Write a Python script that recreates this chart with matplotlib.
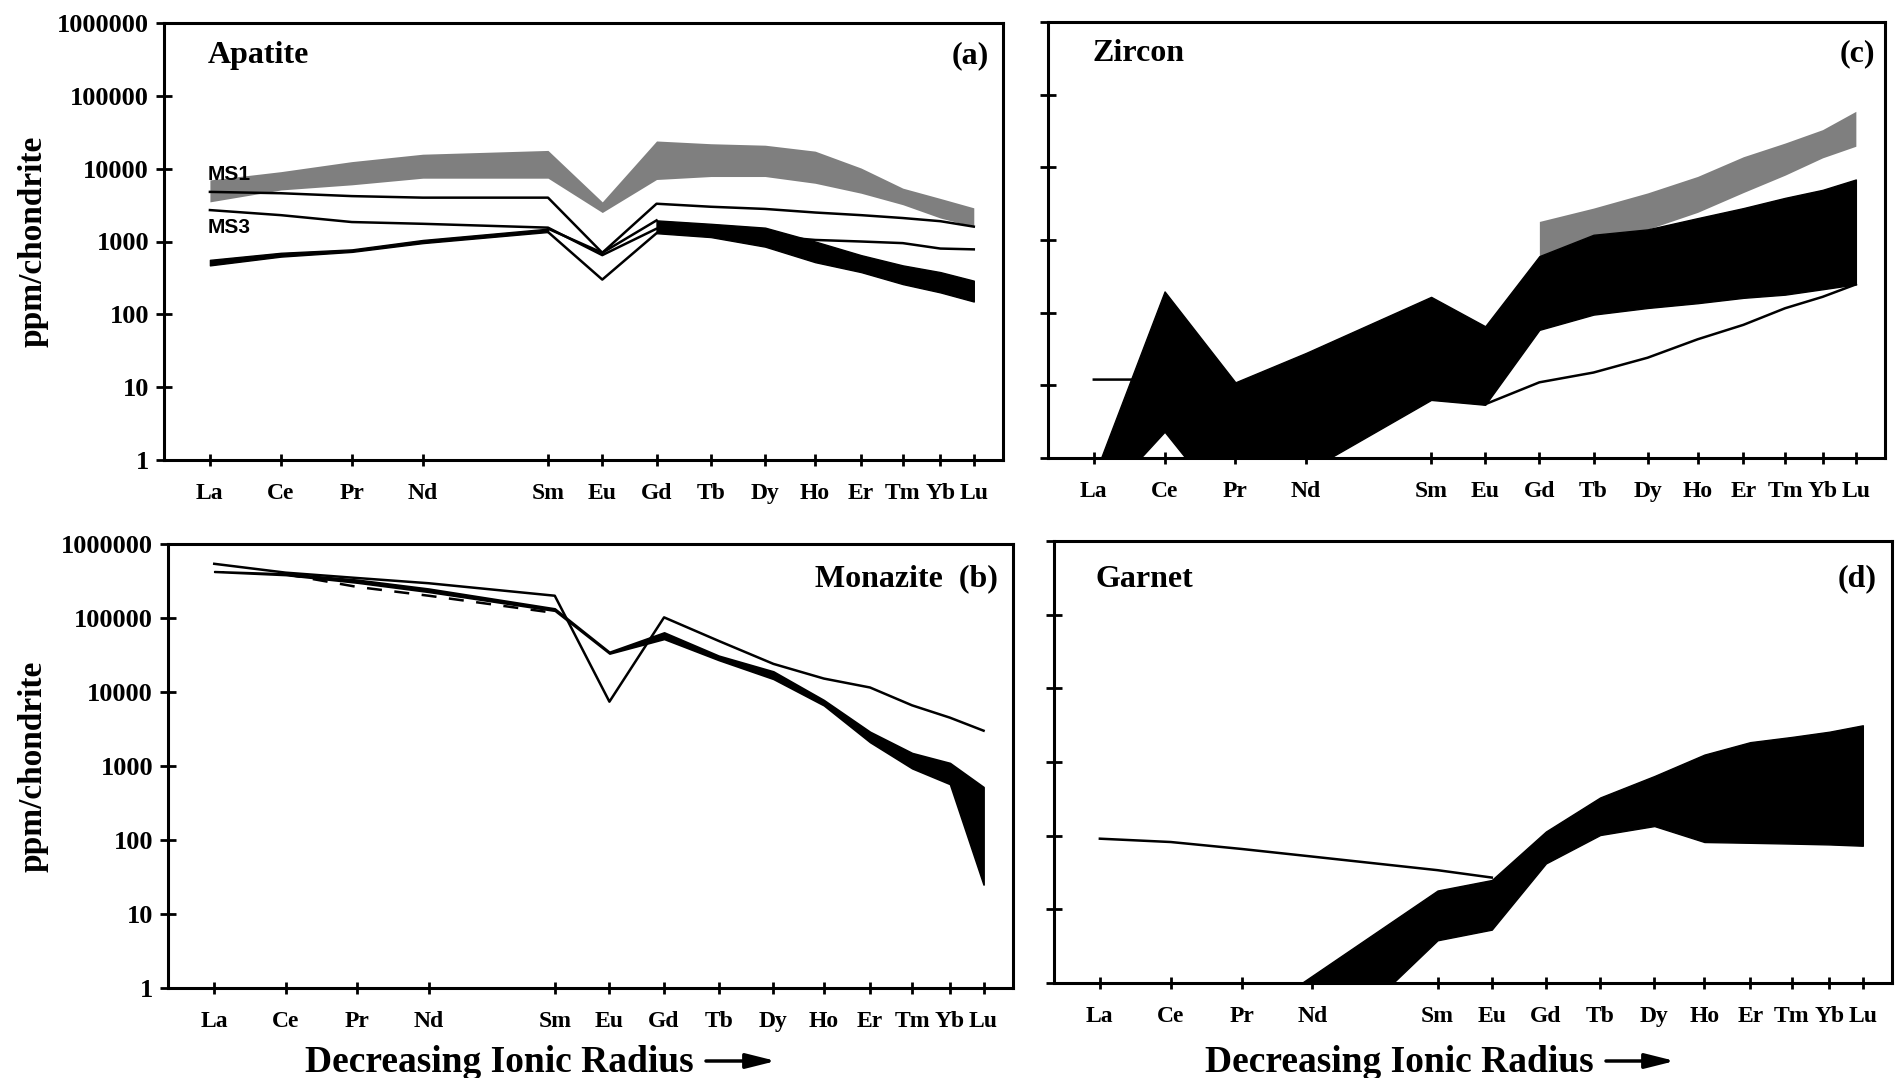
import matplotlib
matplotlib.use('Agg')
import matplotlib.pyplot as plt
from matplotlib.ticker import NullLocator
import numpy as np

plt.rcParams['font.family'] = ['Liberation Serif', 'DejaVu Serif']
plt.rcParams['font.weight'] = 'bold'

# REE on an ionic-radius axis (decreasing to the right)
elements = ['La', 'Ce', 'Pr', 'Nd', 'Sm', 'Eu', 'Gd', 'Tb', 'Dy', 'Ho', 'Er', 'Tm', 'Yb', 'Lu']
ionic_radius = [1.160, 1.143, 1.126, 1.109, 1.079, 1.066, 1.053, 1.040, 1.027, 1.015, 1.004, 0.994, 0.985, 0.977]
ytick_vals = [1, 10, 100, 1000, 10000, 100000, 1000000]
ytick_labels = ['1', '10', '100', '1000', '10000', '100000', '1000000']

# (a) apatite, ppm/chondrite
apatite_ms1_hi = [7000, 9100, 12500, 15800, 17800, 3500, 24000, 22000, 21000, 17400, 10200, 5400, 3900, 2900]
apatite_ms1_lo = [3500, 5100, 6000, 7400, 7400, 2500, 7100, 7800, 7800, 6300, 4600, 3200, 2100, 1600]
apatite_line1 = [4800, 4600, 4200, 4000, 4000, 700, 3300, 3000, 2800, 2500, 2300, 2100, 1900, 1600]
apatite_ms3 = [2700, 2300, 1850, 1750, 1550, 650, 1500, 1350, 1200, 1050, 1000, 950, 800, 780]
apatite_blk_hi = [560, 700, 780, 1050, 1500, 700, 1950, 1750, 1550, 1000, 650, 470, 380, 290]
apatite_blk_lo = [470, 620, 720, 950, 1350, 300, 1300, 1150, 850, 520, 380, 260, 200, 150]

# (c) zircon
zircon_line = [12, 12, 9, 8, 7, 5.5, 11, 15, 24, 43, 68, 115, 165, 245]
zircon_blk_hi = [0.55, 196, 11, 28, 165, 65, 600, 1180, 1400, 2000, 2750, 3800, 4900, 6800]
zircon_blk_lo = [0.2, 2.3, 0.14, 0.65, 6.3, 5.4, 58, 94, 116, 135, 160, 177, 210, 245]
zircon_gray_hi = [1800, 2750, 4450, 7500, 14000, 21600, 33000, 59000]   # Gd..Lu
zircon_gray_lo = [600, 1180, 1400, 2400, 4500, 7800, 13500, 19500]      # Gd..Lu

# (b) monazite
monazite_line = [540000, 410000, 347000, 295000, 200000, 7400, 102000, 49000, 24000, 15200, 11500, 6600, 4500, 3000]
monazite_hi = [430000, 400000, 330000, 250000, 135000, 35000, 64000, 31000, 19000, 7800, 2900, 1500, 1100, 520]
monazite_lo = [420000, 380000, 300000, 225000, 125000, 33000, 52000, 27000, 15000, 6600, 2100, 930, 570, 25]
monazite_dash = [390000, 263000, 200000, 117000]   # Ce..Sm

# (d) garnet
garnet_line = [91, 82, 66, 52, 34, 27]   # La..Eu
garnet_hi = [0.28, 1.26, 18, 25, 114, 330, 645, 1260, 1860, 2190, 2580, 3150]   # Pr..Lu
garnet_lo = [0.01, 0.09, 3.8, 5.3, 42, 102, 135, 82, 80, 78, 76, 73]            # Pr..Lu

GRAY = '#7f7f7f'
LW = 1.8
W, H = 1896, 1078
fig = plt.figure(figsize=(W / 100, H / 100), dpi=100)


def add_ax(l, r, t, b):
    return fig.add_axes([l / W, 1 - b / H, (r - l) / W, (b - t) / H])


def style(ax, show_ylabels):
    ax.set_yscale('log')
    ax.set_ylim(1, 1e6)
    ax.set_xlim(1.171, 0.970)
    ax.set_xticks(ionic_radius)
    ax.set_xticklabels(elements)
    ax.set_yticks(ytick_vals)
    ax.yaxis.set_minor_locator(NullLocator())
    ax.xaxis.set_minor_locator(NullLocator())
    ax.set_yticklabels(ytick_labels if show_ylabels else [])
    ax.tick_params(axis='x', direction='inout', length=8.5, width=2, pad=12, labelsize=17)
    ax.tick_params(axis='y', direction='inout', length=11.5, width=2, pad=5, labelsize=19)
    for s in ax.spines.values():
        s.set_linewidth(2.2)


x = np.array(ionic_radius)

# ---- (a) Apatite
ax_a = add_ax(164, 1003, 23, 460)
style(ax_a, True)
ax_a.fill_between(x, apatite_ms1_lo, apatite_ms1_hi, color=GRAY, lw=0)
ax_a.plot(x, apatite_line1, color='k', lw=LW)
ax_a.plot(x, apatite_ms3, color='k', lw=LW)
ax_a.fill_between(x[:5], apatite_blk_lo[:5], apatite_blk_hi[:5], color='k', lw=1)
ax_a.fill_between(x[6:], apatite_blk_lo[6:], apatite_blk_hi[6:], color='k', lw=1)
ax_a.plot(x[4:7], apatite_blk_hi[4:7], color='k', lw=LW)
ax_a.plot(x[4:7], apatite_blk_lo[4:7], color='k', lw=LW)
ax_a.text(1.1605, 8300, 'MS1', family=['Liberation Sans', 'DejaVu Sans'], weight='bold',
          size=15, ha='left', va='center')
ax_a.text(1.1605, 1550, 'MS3', family=['Liberation Sans', 'DejaVu Sans'], weight='bold',
          size=15, ha='left', va='center')
ax_a.text(0.052, 0.9245, 'Apatite', transform=ax_a.transAxes, size=23, ha='left', va='center')
ax_a.text(0.983, 0.9245, '(a)', transform=ax_a.transAxes, size=23, ha='right', va='center')

# ---- (c) Zircon
ax_c = add_ax(1048, 1885, 22, 458)
style(ax_c, False)
ax_c.fill_between(x[6:], zircon_gray_lo, zircon_gray_hi, color=GRAY, lw=0)
ax_c.fill_between(x, zircon_blk_lo, zircon_blk_hi, color='k', lw=1)
ax_c.plot(x, zircon_line, color='k', lw=LW)
ax_c.text(0.053, 0.927, 'Zircon', transform=ax_c.transAxes, size=23, ha='left', va='center')
ax_c.text(0.988, 0.927, '(c)', transform=ax_c.transAxes, size=23, ha='right', va='center')

# ---- (b) Monazite
ax_b = add_ax(168, 1013, 544, 988)
style(ax_b, True)
ax_b.fill_between(x, monazite_lo, monazite_hi, color='k', lw=1.2)
ax_b.plot(x, monazite_line, color='k', lw=LW)
ax_b.plot(x[1:5], monazite_dash, color='k', lw=LW, ls=(0, (6, 5)))
ax_b.text(0.982, 0.921, 'Monazite  (b)', transform=ax_b.transAxes, size=23, ha='right', va='center')

# ---- (d) Garnet
ax_d = add_ax(1054, 1892, 541, 983)
style(ax_d, False)
ax_d.fill_between(x[2:], garnet_lo, garnet_hi, color='k', lw=1)
ax_d.plot(x[:6], garnet_line, color='k', lw=LW)
ax_d.text(0.049, 0.914, 'Garnet', transform=ax_d.transAxes, size=23, ha='left', va='center')
ax_d.text(0.982, 0.914, '(d)', transform=ax_d.transAxes, size=23, ha='right', va='center')

# y labels
for yc in (241, 766):
    fig.text(33 / W, 1 - yc / H, 'ppm/chondrite', rotation=90, size=24, ha='center', va='center')

# x labels with arrows
for x0, a0, a1 in ((305, 706, 776), (1205, 1606, 1675)):
    fig.text(x0 / W, 1 - 1072 / H, 'Decreasing Ionic Radius', size=27, ha='left', va='baseline')
    ax_b.annotate('', xy=(a1 / W, 1 - 1061 / H), xytext=(a0 / W, 1 - 1061 / H),
                  xycoords='figure fraction', textcoords='figure fraction', annotation_clip=False,
                  arrowprops=dict(arrowstyle='-|>,head_length=1.8,head_width=0.45',
                                  mutation_scale=10, color='k', lw=2.5, shrinkA=0, shrinkB=0))

fig.savefig('out.png', dpi=100)
